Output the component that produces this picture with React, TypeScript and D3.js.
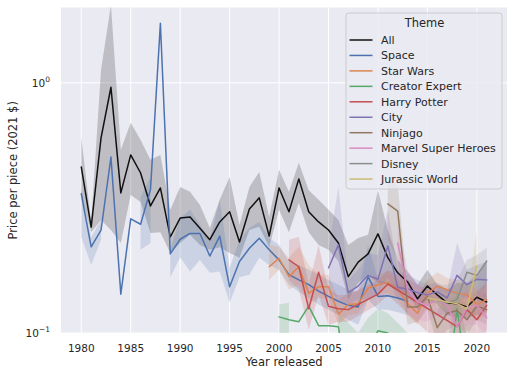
import React from 'react';
import * as d3 from 'd3';

const W = 514;
const H = 377;
const PL = 61, PR = 507, PT = 7.5, PB = 333;

// ---- data ----
const themeNames = ['All', 'Space', 'Star Wars', 'Creator Expert', 'Harry Potter', 'City', 'Ninjago', 'Marvel Super Heroes', 'Disney', 'Jurassic World'];
const themeColors = ['#111111', '#4C72B0', '#DD8452', '#55A868', '#C44E52', '#8172B3', '#937860', '#DA8BC3', '#8C8C8C', '#CCB974'];

// NaN in a lower/upper list = single set that year (no interval drawn)
const allYears = [1980,1981,1982,1983,1984,1985,1986,1987,1988,1989,1990,1991,1992,1993,1994,1995,1996,1997,1998,1999,2000,2001,2002,2003,2004,2005,2006,2007,2008,2009,2010,2011,2012,2013,2014,2015,2016,2017,2018,2019,2020,2021];
const allVals = [0.461,0.265,0.603,0.96,0.363,0.515,0.436,0.322,0.38,0.242, 0.288,0.291,0.262,0.236,0.278,0.305,0.231,0.313,0.347,0.244, 0.38,0.305,0.413,0.305,0.278,0.258,0.229,0.168,0.192,0.207, 0.249,0.2,0.174,0.16,0.137,0.154,0.142,0.132,0.131,0.127, 0.139,0.133];
const allUpper = [0.608,0.278,1.127,2.05,0.54,0.692,0.591,0.493,0.515,0.311, 0.383,0.367,0.325,0.263,0.341,0.42,0.27,0.383,0.44,0.291, 0.449,0.367,0.479,0.372,0.341,0.311,0.283,0.225,0.24,0.247, 0.372,0.258,0.196,0.176,0.156,0.179,0.156,0.149,0.1585,0.1585, 0.171,0.194];
const allLower = [0.356,0.253,0.283,0.258,0.229,0.356,0.334,0.251,0.253,0.209, 0.229,0.247,0.225,0.215,0.22,0.209,0.2,0.258,0.266,0.22, 0.311,0.253,0.331,0.253,0.225,0.215,0.194,0.136,0.1585,0.171, 0.1585,0.156,0.149,0.1445,0.124,0.136,0.13,0.118,0.115,0.115, 0.118,0.121];

const spaceYears = [1980,1981,1982,1983,1984,1985,1986,1987,1988,1989,1990,1991,1992,1993,1994,1995,1996,1997,1998,1999,2000,2001,2002,2003,2004,2005,2006,2007,2008,2009,2010,2011,2012,2013];
const spaceVals = [0.36,0.221,0.258,0.505,0.143,0.286,0.272,0.375,1.73,0.207, 0.237,0.25,0.25,0.203,0.244,0.153,0.193,0.218,0.239,0.215, 0.196,0.171,0.163,0.156,0.147,0.14,0.134,0.129,0.127,0.168, 0.14,0.141,0.138,0.134];
const spaceUpper = [0.38,0.242,0.283,NaN,0.156,NaN,0.35,0.42,NaN,0.215, 0.289,0.311,0.27,0.236,0.341,0.182,0.236,0.263,0.278,0.24, 0.225,0.193,0.187,0.179,0.171,0.163,0.156,0.149,0.146,0.225, 0.163,0.159,0.156,0.149];
const spaceLower = [0.242,0.187,0.236,NaN,0.12,NaN,0.215,0.229,NaN,0.167, 0.201,0.176,0.196,0.174,0.176,0.132,0.167,0.171,0.2,0.187, 0.179,0.156,0.146,0.138,0.13,0.124,0.118,0.113,0.108,0.136, 0.124,0.124,0.121,0.118];

const swYears = [1999,2000,2001,2002,2003,2004,2005,2006,2007,2008,2009,2010,2011,2012,2013,2014,2015,2016,2017,2018,2019,2020,2021];
const swVals = [0.184,0.199,0.168,0.184,0.144,0.153,0.153,0.119,0.13,0.131,0.151,0.156,0.159,0.149,0.131,0.12,0.144,0.154,0.149,0.144,0.142,0.13,0.136];
const swUpper = [0.225,0.221,0.2,0.221,0.187,0.171,0.171,0.136,0.145,0.149,0.166,0.171,0.176,0.163,0.149,0.136,0.163,0.175,0.166,0.163,0.16,0.149,0.156];
const swLower = [0.163,0.179,0.149,0.156,0.13,0.138,0.138,0.108,0.118,0.12,0.138,0.142,0.145,0.136,0.118,0.108,0.13,0.138,0.134,0.13,0.126,0.113,0.118];

const ceYears = [2000,2001,2002,2003,2004,2005,2006,2007,2008,2009,2010,2011,2012,2013,2014,2015,2016,2017,2018,2019,2020,2021];
const ceVals = [0.116,0.113,0.111,0.128,0.107,0.107,0.106,0.06,0.068,0.085,0.102,0.1,0.09,0.08,0.08,0.085,0.08,0.06,0.125,0.065,0.09,0.09];
const ceUpper = [0.13,0.132,NaN,NaN,NaN,NaN,0.12,0.11,0.1,0.115,0.125,0.12,0.11,0.1,0.095,0.1,0.095,0.09,0.15,0.095,0.1,0.1];
const ceLower = [0.09,0.09,NaN,NaN,NaN,NaN,0.09,0.05,0.05,0.06,0.08,0.08,0.07,0.06,0.06,0.06,0.06,0.05,0.09,0.05,0.08,0.08];

const hpYears = [2001,2002,2003,2004,2005,2006,2007,2010,2011,2018,2019,2020,2021];
const hpVals = [0.196,0.184,0.125,0.175,0.128,0.125,0.124,0.143,0.157,0.106,0.124,0.113,0.129];
const hpUpper = [0.236,0.242,0.156,0.225,0.149,0.142,0.142,0.163,0.179,0.13,0.149,0.142,0.163];
const hpLower = [0.163,0.149,0.103,0.142,0.108,0.111,0.111,0.13,0.142,0.078,0.103,0.09,0.103];

const cityYears = [2005,2006,2007,2008,2009,2010,2011,2012,2013,2014,2015,2016,2017,2018,2019,2020,2021];
const cityVals = [0.182,0.225,0.145,0.154,0.17,0.164,0.223,0.152,0.15,0.145,0.142,0.146,0.138,0.17,0.156,0.164,0.163];
const cityUpper = [0.215,0.384,0.163,0.179,0.209,0.205,0.311,0.179,0.171,0.163,0.156,0.159,0.149,0.229,0.179,0.187,0.193];
const cityLower = [0.149,0.136,0.13,0.136,0.136,0.142,0.167,0.136,0.136,0.133,0.13,0.133,0.127,0.136,0.138,0.142,0.136];

const ninjagoYears = [2011,2012,2013,2014,2015,2016,2017,2018,2019,2020,2021];
const ninjagoVals = [0.328,0.307,0.127,0.127,0.14,0.105,0.12,0.123,0.113,0.128,0.124];
const ninjagoUpper = [0.428,0.39,0.149,0.142,0.163,0.124,0.136,0.142,0.13,0.149,0.142];
const ninjagoLower = [0.236,0.196,0.108,0.111,0.124,0.09,0.103,0.108,0.098,0.113,0.108];

const marvelYears = [2012,2013,2014,2015,2016,2017,2018,2019,2020,2021];
const marvelVals = [0.229,0.149,0.133,0.129,0.136,0.129,0.106,0.126,0.129,0.115];
const marvelUpper = [0.27,0.179,0.156,0.149,0.156,0.149,0.13,0.149,0.156,0.136];
const marvelLower = [0.171,0.118,0.113,0.111,0.118,0.113,0.094,0.108,0.108,0.098];

const disneyYears = [2016,2017,2018,2019,2020,2021];
const disneyVals = [0.135,0.132,0.136,0.175,0.17,0.194];
const disneyUpper = [0.156,0.156,0.163,0.196,0.205,0.219];
const disneyLower = [0.118,0.118,0.124,0.149,0.142,0.156];

const jwYears = [2015,2018,2019,2020];
const jwVals = [0.138,0.131,0.125,0.185];
const jwUpper = [0.149,0.142,0.136,0.258];
const jwLower = [0.13,0.121,0.118,0.13];

const xTicks = [1980,1985,1990,1995,2000,2005,2010,2015,2020];
const yTicks = [1, 0.1];
const yTickExp = ['0', '\u22121'];

type Pt = { year: number; v: number; lo: number; hi: number };
const build = (ys: number[], v: number[], lo: number[], hi: number[]): Pt[] =>
  ys.map((year, i) => ({ year, v: v[i], lo: lo[i], hi: hi[i] }));

const seriesData: Pt[][] = [
  build(allYears, allVals, allLower, allUpper),
  build(spaceYears, spaceVals, spaceLower, spaceUpper),
  build(swYears, swVals, swLower, swUpper),
  build(ceYears, ceVals, ceLower, ceUpper),
  build(hpYears, hpVals, hpLower, hpUpper),
  build(cityYears, cityVals, cityLower, cityUpper),
  build(ninjagoYears, ninjagoVals, ninjagoLower, ninjagoUpper),
  build(marvelYears, marvelVals, marvelLower, marvelUpper),
  build(disneyYears, disneyVals, disneyLower, disneyUpper),
  build(jwYears, jwVals, jwLower, jwUpper),
];

const FONT = '"DejaVu Sans", sans-serif';
const TXT = '#262626';

export default function App() {
  const x = d3.scaleLinear().domain([1977.95, 2023.05]).range([PL, PR]);
  const y = d3.scaleLog().domain([0.1, 2.0]).range([PB, PT]);
  const line = d3.line<Pt>().x(d => x(d.year)).y(d => y(d.v));
  const area = d3.area<Pt>()
    .defined(d => !isNaN(d.lo) && !isNaN(d.hi))
    .x(d => x(d.year)).y0(d => y(d.lo)).y1(d => y(d.hi));

  const legX = 346, legY = 13, legW = 156, legH = 176;

  return (
    <svg width={W} height={H} style={{ display: 'block', position: 'absolute', left: 0, top: 0 }} fontFamily={FONT}>
      <defs>
        <clipPath id="plotclip">
          <rect x={PL} y={PT} width={PR - PL} height={PB - PT} />
        </clipPath>
      </defs>
      <rect x={0} y={0} width={W} height={H} fill="#ffffff" />
      <rect x={PL} y={PT} width={PR - PL} height={PB - PT} fill="#EAEAF2" />
      {xTicks.map(t => (
        <line key={'gx' + t} x1={x(t)} x2={x(t)} y1={PT} y2={PB} stroke="#ffffff" strokeWidth={1} />
      ))}
      {yTicks.map(t => (
        <line key={'gy' + t} x1={PL} x2={PR} y1={y(t)} y2={y(t)} stroke="#ffffff" strokeWidth={1} />
      ))}
      <g clipPath="url(#plotclip)">
        {seriesData.map((s, i) => (
          <path key={'a' + i} d={area(s) || ''} fill={themeColors[i]} fillOpacity={0.2} stroke="none" />
        ))}
        {seriesData.map((s, i) => (
          <path key={'l' + i} d={line(s) || ''} fill="none" stroke={themeColors[i]} strokeWidth={1.5} strokeLinejoin="round" strokeLinecap="round" />
        ))}
      </g>
      {xTicks.map(t => (
        <text key={'tx' + t} x={x(t)} y={351.5} textAnchor="middle" fontSize={10.5} fill={TXT}>{t}</text>
      ))}
      {yTicks.map((t, i) => (
        <text key={'ty' + t} x={50} y={y(t) + 4} textAnchor="end" fontSize={10.5} fill={TXT}>
          10<tspan dy={-5} fontSize={7.5}>{yTickExp[i]}</tspan>
        </text>
      ))}
      <text x={(PL + PR) / 2} y={365.5} textAnchor="middle" fontSize={11.5} fill={TXT}>Year released</text>
      <text transform={`translate(17,${(PT + PB) / 2}) rotate(-90)`} textAnchor="middle" fontSize={11.5} fill={TXT}>Price per piece (2021 $)</text>
      <g>
        <rect x={legX} y={legY} width={legW} height={legH} rx={3} fill="#EAEAF2" fillOpacity={0.8} stroke="#cccccc" strokeWidth={1} />
        <text x={legX + legW / 2 + 0.5} y={26.7} textAnchor="middle" fontSize={11.5} fill={TXT}>Theme</text>
        {themeNames.map((n, i) => {
          const cy = 40 + i * 15.45;
          return (
            <g key={'lg' + i}>
              <line x1={349.5} x2={372.5} y1={cy} y2={cy} stroke={themeColors[i]} strokeWidth={1.5} />
              <text x={381} y={cy + 4} fontSize={11} fill={TXT}>{n}</text>
            </g>
          );
        })}
      </g>
    </svg>
  );
}
